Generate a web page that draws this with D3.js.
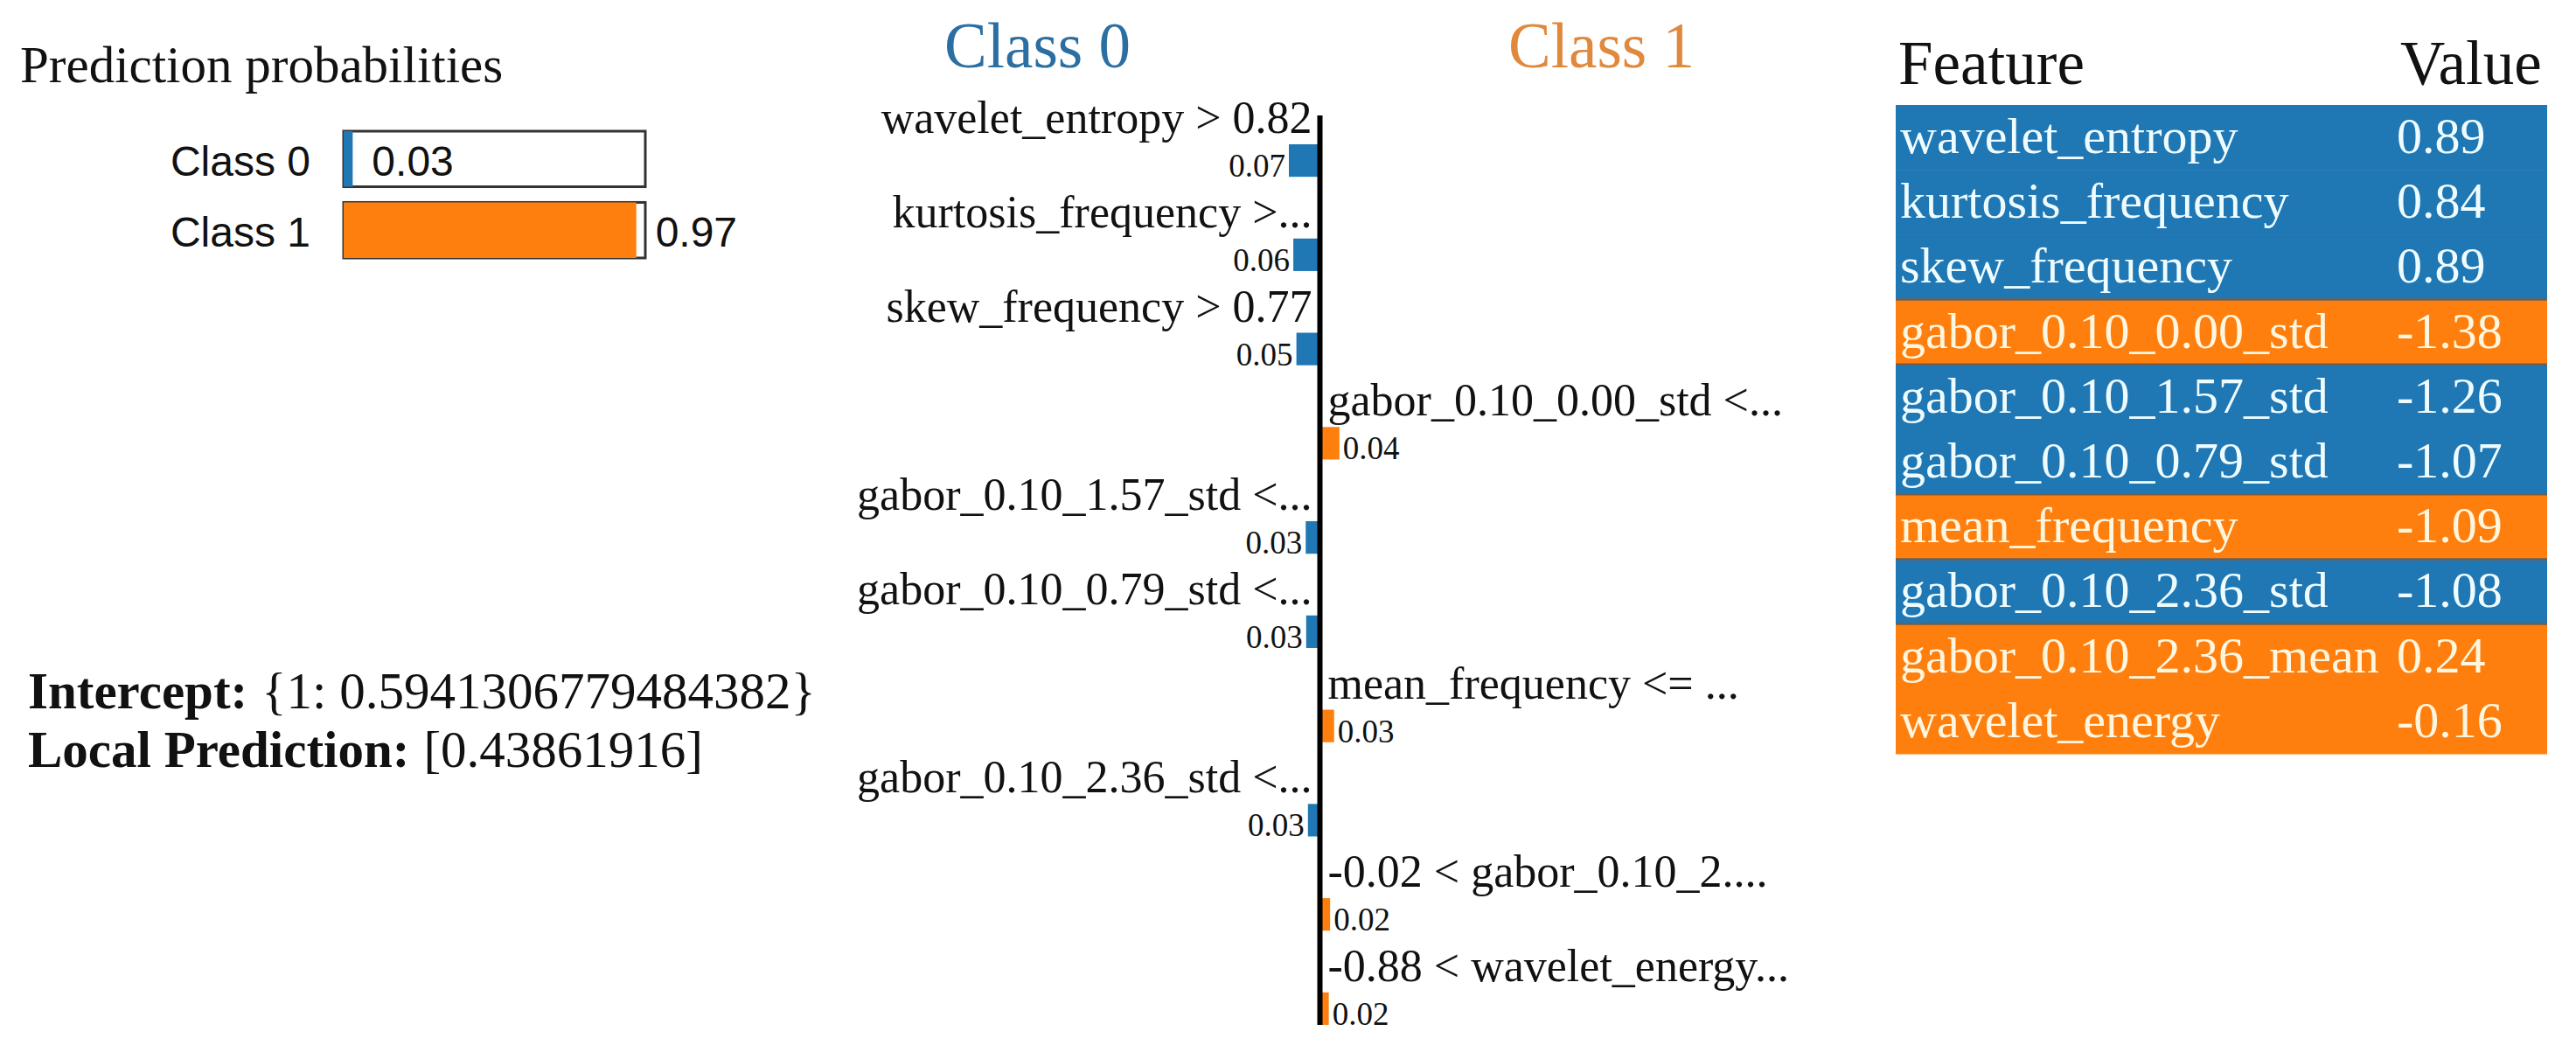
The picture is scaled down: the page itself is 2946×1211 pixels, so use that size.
<!DOCTYPE html>
<html>
<head>
<meta charset="utf-8">
<script src="https://cdn.jsdelivr.net/npm/d3@7"></script>
<style>
  html, body { margin: 0; padding: 0; background: #fff; }
  svg { display: block; }
</style>
</head>
<body>
<svg id="chart" width="2946" height="1211"></svg>
<script>
// ---------- DATA ----------
const probClasses = ["Class 0", "Class 1"];
const probValues = [0.03, 0.97];

const explainTitles = ["Class 0", "Class 1"];
const featureLabels = [
  "wavelet_entropy > 0.82",
  "kurtosis_frequency >...",
  "skew_frequency > 0.77",
  "gabor_0.10_0.00_std <...",
  "gabor_0.10_1.57_std <...",
  "gabor_0.10_0.79_std <...",
  "mean_frequency <= ...",
  "gabor_0.10_2.36_std <...",
  "-0.02 < gabor_0.10_2....",
  "-0.88 < wavelet_energy..."
];
const featureWeights = [0.070, 0.060, 0.053, 0.044, 0.032, 0.031, 0.032, 0.027, 0.023, 0.020];
const featureClass = [0, 0, 0, 1, 0, 0, 1, 0, 1, 1];

const tableHeader = ["Feature", "Value"];
const tableFeatures = [
  "wavelet_entropy", "kurtosis_frequency", "skew_frequency", "gabor_0.10_0.00_std",
  "gabor_0.10_1.57_std", "gabor_0.10_0.79_std", "mean_frequency", "gabor_0.10_2.36_std",
  "gabor_0.10_2.36_mean", "wavelet_energy"
];
const tableValues = [0.89, 0.84, 0.89, -1.38, -1.26, -1.07, -1.09, -1.08, 0.24, -0.16];
const tableClass = [0, 0, 0, 1, 0, 0, 1, 0, 1, 1];

const interceptKey = "Intercept:";
const interceptValue = "{1: 0.5941306779484382}";
const localPredKey = "Local Prediction:";
const localPredValue = "[0.43861916]";

// ---------- STYLE ----------
const colors = ["#1f77b4", "#ff7f0e"];
const titleColors = ["#2b6fa2", "#e0883c"];
const SERIF = "'Liberation Serif', 'Times New Roman', serif";
const SANS = "'Liberation Sans', Arial, sans-serif";
const fmt2 = v => v.toFixed(2);

const svg = d3.select("#chart");
svg.append("rect").attr("width", 2946).attr("height", 1211).attr("fill", "#fff");

// ---------- PREDICTION PROBABILITIES ----------
const probG = svg.append("g");
probG.append("text")
  .attr("x", 23).attr("y", 94)
  .attr("font-family", SERIF).attr("font-size", 59)
  .attr("fill", "#111")
  .text("Prediction probabilities");

const probX = d3.scaleLinear().domain([0, 1]).range([393, 738]);
const probY = d3.scaleBand().domain(probClasses).range([150, 295]).paddingInner(0.22).paddingOuter(0);

const probRows = probG.selectAll("g.prow").data(probClasses.map((c, i) => ({c, v: probValues[i], i})))
  .join("g").attr("class", "prow");

probRows.append("rect")
  .attr("x", probX(0)).attr("y", d => probY(d.c))
  .attr("width", probX(1) - probX(0)).attr("height", probY.bandwidth())
  .attr("fill", "none").attr("stroke", "#333").attr("stroke-width", 3);

probRows.append("rect")
  .attr("x", probX(0)).attr("y", d => probY(d.c))
  .attr("width", d => probX(d.v) - probX(0)).attr("height", probY.bandwidth())
  .attr("fill", d => colors[d.i]);

probRows.append("text")
  .attr("x", 355).attr("y", d => probY(d.c) + probY.bandwidth() / 2 + 19)
  .attr("text-anchor", "end")
  .attr("font-family", SANS).attr("font-size", 48).attr("fill", "#111")
  .text(d => d.c);

probRows.append("text")
  .attr("x", d => probX(d.v) + 22).attr("y", d => probY(d.c) + probY.bandwidth() / 2 + 19)
  .attr("font-family", SANS).attr("font-size", 48).attr("fill", "#111")
  .text(d => fmt2(d.v));

// ---------- INTERCEPT / LOCAL PREDICTION ----------
const info = svg.append("g").attr("font-family", SERIF).attr("font-size", 59).attr("fill", "#111");
const t1 = info.append("text").attr("x", 32).attr("y", 810);
t1.append("tspan").attr("font-weight", "bold").text(interceptKey);
t1.append("tspan").attr("dx", 16).text(interceptValue);
const t2 = info.append("text").attr("x", 32).attr("y", 877);
t2.append("tspan").attr("font-weight", "bold").text(localPredKey);
t2.append("tspan").attr("dx", 16).text(localPredValue);

// ---------- EXPLANATION BARS ----------
const axisX = 1509.5;
const wScale = d3.scaleLinear().domain([0, 0.07]).range([0, 35.5]);
const rowY = d3.scaleBand().domain(d3.range(featureLabels.length)).range([165, 1172]).paddingInner(0.655).paddingOuter(0);

const exG = svg.append("g");
exG.selectAll("text.title").data(explainTitles).join("text")
  .attr("class", "title")
  .attr("x", (d, i) => i === 0 ? axisX - 323 : axisX + 322)
  .attr("y", 77)
  .attr("text-anchor", "middle")
  .attr("font-family", SERIF).attr("font-size", 73)
  .attr("fill", (d, i) => titleColors[i])
  .text(d => d);

const feats = featureLabels.map((f, i) => ({f, w: featureWeights[i], c: featureClass[i], i}));
const fRows = exG.selectAll("g.frow").data(feats).join("g").attr("class", "frow");

fRows.append("rect")
  .attr("x", d => d.c === 0 ? axisX - wScale(d.w) : axisX)
  .attr("y", d => rowY(d.i))
  .attr("width", d => wScale(d.w))
  .attr("height", rowY.bandwidth())
  .attr("fill", d => colors[d.c]);

fRows.append("text")
  .attr("x", d => d.c === 0 ? axisX - 9 : axisX + 9)
  .attr("y", d => rowY(d.i) - 13)
  .attr("text-anchor", d => d.c === 0 ? "end" : "start")
  .attr("font-family", SERIF).attr("font-size", 52).attr("fill", "#111")
  .text(d => d.f);

fRows.append("text")
  .attr("x", d => d.c === 0 ? axisX - wScale(d.w) - 4 : axisX + wScale(d.w) + 4)
  .attr("y", d => rowY(d.i) + rowY.bandwidth())
  .attr("text-anchor", d => d.c === 0 ? "end" : "start")
  .attr("font-family", SERIF).attr("font-size", 37).attr("fill", "#111")
  .text(d => fmt2(d.w));

exG.append("line")
  .attr("x1", axisX).attr("x2", axisX)
  .attr("y1", 132).attr("y2", 1172)
  .attr("stroke", "#000").attr("stroke-width", 6);

// ---------- FEATURE TABLE ----------
const tabG = svg.append("g");
const tabX0 = 2168, tabX1 = 2913, valX = 2741;
tabG.selectAll("text.hdr").data(tableHeader).join("text")
  .attr("class", "hdr")
  .attr("x", (d, i) => i === 0 ? 2171 : valX + 4)
  .attr("y", 96)
  .attr("font-family", SERIF).attr("font-size", 71).attr("fill", "#111")
  .text(d => d);

const tabY = d3.scaleBand().domain(d3.range(tableFeatures.length)).range([120, 862]);
const tRows = tabG.selectAll("g.trow")
  .data(tableFeatures.map((f, i) => ({f, v: tableValues[i], c: tableClass[i], i})))
  .join("g").attr("class", "trow");

tRows.append("rect")
  .attr("x", tabX0).attr("y", d => tabY(d.i))
  .attr("width", tabX1 - tabX0).attr("height", tabY.bandwidth() + 0.5)
  .attr("fill", d => colors[d.c]);

// thin separators where the row colour changes
tRows.filter(d => d.i > 0 && tableClass[d.i - 1] !== d.c)
  .append("line")
  .attr("x1", tabX0).attr("x2", tabX1)
  .attr("y1", d => tabY(d.i)).attr("y2", d => tabY(d.i))
  .attr("stroke", "#6e5e50").attr("stroke-width", 2.5);

tRows.append("text")
  .attr("x", 2173).attr("y", d => tabY(d.i) + 55)
  .attr("font-family", SERIF).attr("font-size", 58)
  .attr("fill", d => d.c === 0 ? "#eefcff" : "#fff6df")
  .text(d => d.f);

tRows.append("text")
  .attr("x", valX).attr("y", d => tabY(d.i) + 55)
  .attr("font-family", SERIF).attr("font-size", 58)
  .attr("fill", d => d.c === 0 ? "#eefcff" : "#fff6df")
  .text(d => fmt2(d.v));
</script>
</body>
</html>
